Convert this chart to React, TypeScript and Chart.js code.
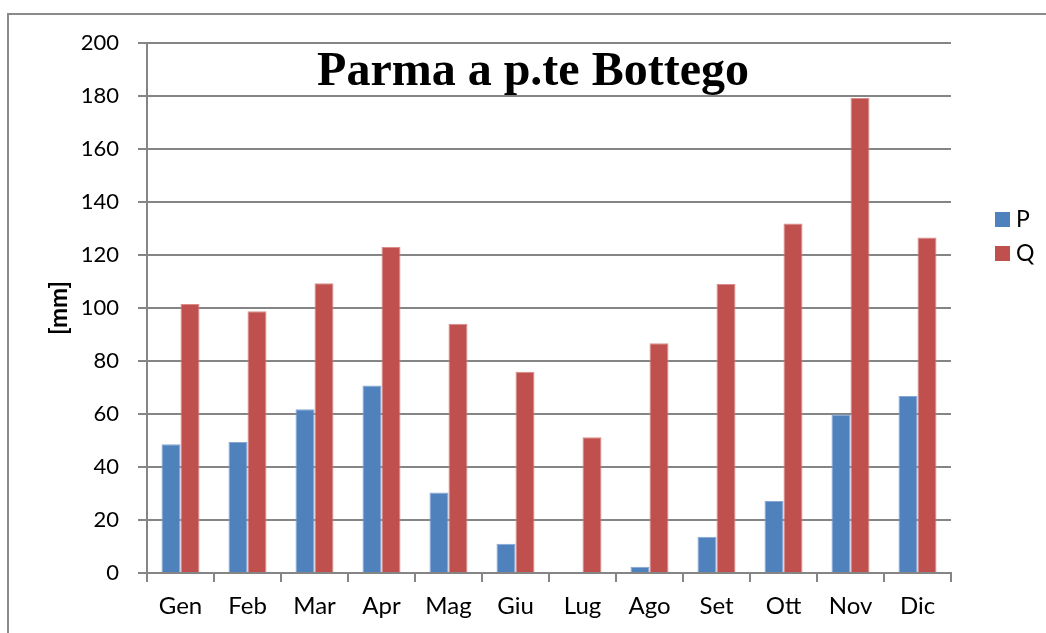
import React, { useEffect, useRef } from "react";
import { Chart, registerables } from "chart.js";

Chart.register(...registerables);

const months = ["Gen", "Feb", "Mar", "Apr", "Mag", "Giu", "Lug", "Ago", "Set", "Ott", "Nov", "Dic"];
const seriesP = [48.6, 49.4, 61.8, 70.8, 30.4, 11.0, 0, 2.4, 13.7, 27.2, 59.8, 66.8];
const seriesQ = [101.5, 98.8, 109.3, 123.0, 94.1, 75.9, 51.2, 86.7, 109.1, 131.9, 179.2, 126.6];
const chartTitle = "Parma a p.te Bottego";
const yAxisTitle = "[mm]";

const GRID = "#858585";
const FONT = "Lato";

const decorPlugin = {
  id: "decor",
  afterDraw(chart: any) {
    const ctx = chart.ctx as CanvasRenderingContext2D;
    ctx.save();
    // outer border
    ctx.strokeStyle = "#8a8a8a";
    ctx.lineWidth = 2;
    ctx.strokeRect(8, 14, 1100, 700);
    // title
    ctx.fillStyle = "#000";
    ctx.font = "bold 48px 'Liberation Serif', 'Times New Roman', serif";
    ctx.textAlign = "center";
    ctx.textBaseline = "alphabetic";
    ctx.fillText(chartTitle, 533, 85);
    // y title
    ctx.save();
    ctx.translate(59, 308);
    ctx.rotate(-Math.PI / 2);
    ctx.font = `bold 24px ${FONT}`;
    ctx.textBaseline = "middle";
    ctx.fillText(yAxisTitle, 0, 0);
    ctx.restore();
    // legend
    const ds = chart.data.datasets;
    ctx.font = `23px ${FONT}`;
    ctx.textAlign = "left";
    ctx.textBaseline = "middle";
    ds.forEach((d: any, i: number) => {
      const y = 212 + i * 34;
      ctx.fillStyle = d.backgroundColor;
      ctx.fillRect(995, y, 15, 15);
      ctx.fillStyle = "#000";
      ctx.fillText(d.label, 1016, y + 8);
    });
    ctx.restore();
  },
};

export default function App() {
  const ref = useRef<HTMLCanvasElement>(null);
  useEffect(() => {
    document.body.style.margin = "0";
    const chart = new Chart(ref.current!, {
      type: "bar",
      data: {
        labels: months,
        datasets: [
          {
            label: "P",
            data: seriesP,
            backgroundColor: "#4F81BD",
            borderColor: "#86a6d4",
            borderWidth: 1,
            categoryPercentage: 38 / 67,
            barPercentage: 1,
          },
          {
            label: "Q",
            data: seriesQ,
            backgroundColor: "#C0504D",
            borderColor: "#d98c8a",
            borderWidth: 1,
            categoryPercentage: 38 / 67,
            barPercentage: 1,
          },
        ],
      },
      options: {
        responsive: false,
        animation: false,
        layout: { padding: { top: 43, right: 95, left: 0, bottom: 0 } },
        plugins: {
          legend: { display: false },
          title: { display: false },
          tooltip: { enabled: false },
        },
        scales: {
          x: {
            grid: { drawOnChartArea: false, tickLength: 9, color: GRID, lineWidth: 2 },
            border: { color: GRID, width: 2 },
            ticks: { color: "#000", font: { family: FONT, size: 24 }, padding: 10 },
            afterFit(scale: any) {
              scale.height = 60;
            },
          },
          y: {
            min: 0,
            max: 200,
            grid: { tickLength: 9, color: GRID, lineWidth: 2 },
            border: { color: GRID, width: 2 },
            ticks: { stepSize: 20, color: "#000", font: { family: FONT, size: 22 }, padding: 19 },
            afterFit(scale: any) {
              scale.width = 147;
            },
          },
        },
      },
      plugins: [decorPlugin],
    });
    return () => chart.destroy();
  }, []);
  return (
    <div style={{ position: "fixed", left: 0, top: 0, width: 1046, height: 633, background: "#fff" }}>
      <canvas ref={ref} width={1046} height={633} />
    </div>
  );
}
